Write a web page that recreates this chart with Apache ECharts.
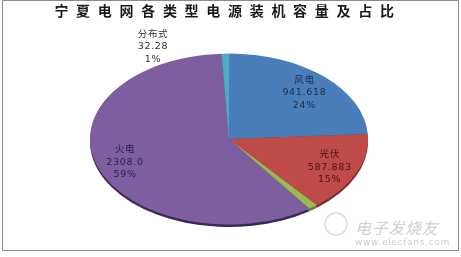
<!DOCTYPE html>
<html><head><meta charset="utf-8">
<script src="https://cdn.jsdelivr.net/npm/echarts@6/dist/echarts.min.js"></script>
<style>
html,body{margin:0;padding:0;background:#fff;width:461px;height:257px;overflow:hidden;}
#pie{position:absolute;left:0;top:-11px;width:461px;height:300px;transform:scaleY(0.615);transform-origin:0 150px;}
#main{position:absolute;left:0;top:0;width:461px;height:257px;}
#ttl{position:absolute;left:0;top:0;width:461px;height:28px;}
</style></head><body>
<div id="pie"></div><div id="main"></div><div id="ttl"></div>
<script>
// ---- data ----
const titleText = '宁夏电网各类型电源装机容量及占比';
const categories = ['风电', '光伏', '水电', '火电', '分布式'];
const capacities = [941.618, 587.883, 42.6, 2308.0, 32.28];
const valueLabels = ['941.618', '587.883', '', '2308.0', '32.28'];

// ---- styles ----
const sliceColors = ['#4a7ebb', '#be4b48', '#98b954', '#7d5fa0', '#4bacc6'];
const rimColors = ['#2c4d75', '#7a2c2a', '#5f7a30', '#3a2858', '#2b6e80'];
const labelColors = ['#1c2c48', '#4a1414', '#2a3a14', '#2c1f48', '#333333'];

const CX = 229, CY = 139, R = 139, K = 0.615, PCY = 150;

function spaceText(chart, px) {
  try {
    const painter = chart.getZr().painter;
    const layers = painter.getLayers ? painter.getLayers() : {};
    Object.keys(layers).forEach(k => { if (layers[k].ctx) layers[k].ctx.letterSpacing = px; });
    painter.refresh(true);
  } catch (e) {}
}

const pieData = categories.map((c, i) => ({ name: c, value: capacities[i], itemStyle: { color: sliceColors[i] } }));
const rimData = categories.map((c, i) => ({ name: c, value: capacities[i], itemStyle: { color: rimColors[i] } }));

const pieChart = echarts.init(document.getElementById('pie'), null, { renderer: 'svg' });
pieChart.setOption({
  animation: false,
  series: [
    { type: 'pie', silent: true, center: [CX, PCY + 4], radius: R, startAngle: 90, label: { show: false }, labelLine: { show: false }, data: rimData, z: 1 },
    { type: 'pie', silent: true, center: [CX, PCY], radius: R, startAngle: 90, label: { show: false }, labelLine: { show: false }, data: pieData, z: 2 }
  ]
});

const chart = echarts.init(document.getElementById('main'), null, { renderer: 'canvas' });
const labelData = categories.map((c, i) => ({
  name: c, value: capacities[i],
  itemStyle: { color: 'rgba(0,0,0,0)' },
  label: { show: valueLabels[i] !== '', color: labelColors[i] }
}));
chart.setOption({
  animation: false,
  graphic: [
    { type: 'rect', shape: { x: 2.5, y: 0.5, width: 456, height: 250 }, style: { fill: 'none', stroke: '#8c8c8c', lineWidth: 1 }, silent: true },
    { type: 'circle', shape: { cx: 336, cy: 224, r: 11 }, style: { fill: 'none', stroke: '#d8d8d8', lineWidth: 1.5 }, silent: true },
    { type: 'text', x: 355, y: 220, style: { text: '电子发烧友', fill: '#cfcfcf', font: 'italic 16px "Noto Sans CJK SC"' }, silent: true },
    { type: 'text', x: 355, y: 238, style: { text: 'www.elecfans.com', fill: '#cdcdcd', font: '9px "DejaVu Sans"' }, silent: true }
  ],
  series: [{
    type: 'pie', silent: true, center: [CX, CY], radius: [Math.round(R * 0.54), R], startAngle: 90,
    percentPrecision: 0,
    label: {
      position: 'inside', fontSize: 9.5, lineHeight: 12.5, fontFamily: '"DejaVu Sans", "Noto Sans CJK SC"',
      formatter: p => p.name + '\n' + valueLabels[p.dataIndex] + '\n' + p.percent + '%'
    },
    labelLine: { show: false },
    labelLayout: function (params) {
      const r = params.labelRect;
      const lx = r.x + r.width / 2, ly = r.y + r.height / 2;
      if (params.dataIndex === 4) return { x: CX - 76, y: CY - 92 };
      return { x: lx, y: CY + (ly - CY) * K + (params.dataIndex === 0 ? 3 : 1) };
    },
    data: labelData
  }]
});
spaceText(chart, '0.7px');

const titleChart = echarts.init(document.getElementById('ttl'), null, { renderer: 'canvas' });
titleChart.setOption({
  animation: false,
  title: { show: false, text: titleText },
  graphic: [{
    type: 'text', x: 228, y: 11, silent: true,
    style: { text: titleText, align: 'center', verticalAlign: 'middle', font: 'bold 14px "Noto Sans CJK SC"', fill: '#1a1a1a' }
  }]
});
spaceText(titleChart, '7.7px');
</script></body></html>
